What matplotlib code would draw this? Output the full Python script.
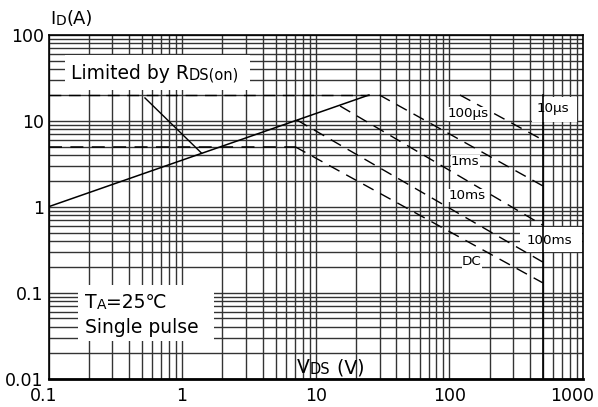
import matplotlib.pyplot as plt
import matplotlib.transforms as mtransforms
from matplotlib.patches import Rectangle
from matplotlib.ticker import LogLocator, NullFormatter

plt.rcParams['font.family'] = ['DejaVu Sans']

# axis ticks
x_ticks = [0.1, 1, 10, 100, 1000]
x_tick_labels = ['0.1', '1', '10', '100', '1000']
y_ticks = [0.01, 0.1, 1, 10, 100]
y_tick_labels = ['0.01', '0.1', '1', '10', '100']

# Rds(on) limit and its pointer
rds_v = [0.1, 25]
rds_i = [1, 20]
pointer_v = [0.527, 1.4]
pointer_i = [18.5, 4.2]

# current limits (pulsed / dc) and max Vds
pulse_lim_v = [0.1, 25]
pulse_lim_i = [20, 20]
dc_lim_v = [0.1, 7]
dc_lim_i = [5, 5]
vmax_v = [500, 500]
vmax_i = [0.01, 20]

# pulse width lines
v_10us = [120, 500]
i_10us = [20, 6.0]
v_100us = [30, 500]
i_100us = [20, 1.75]
v_1ms = [15.2, 500]
i_1ms = [14.9, 0.61]
v_10ms = [7.25, 500]
i_10ms = [10.2, 0.227]
v_dc = [7.0, 500]
i_dc = [5.0, 0.13]

fig = plt.figure(figsize=(5.98, 4.07), dpi=100)
ax = fig.add_axes([48.5/598, 28.5/407, 534.5/598, 343.5/407])
ax.set_xscale('log')
ax.set_yscale('log')
ax.set_xlim(0.1, 1000)
ax.set_ylim(0.01, 100)

ax.xaxis.set_minor_locator(LogLocator(base=10, subs=range(2, 10), numticks=50))
ax.yaxis.set_minor_locator(LogLocator(base=10, subs=range(2, 10), numticks=50))
ax.xaxis.set_minor_formatter(NullFormatter())
ax.yaxis.set_minor_formatter(NullFormatter())
ax.set_xticks(x_ticks, x_tick_labels, fontsize=12.5)
ax.set_yticks(y_ticks, y_tick_labels, fontsize=12.5)
ax.tick_params(which='both', length=0)
ax.tick_params(axis='x', pad=6)
ax.tick_params(axis='y', pad=3.5)
ax.grid(True, which='both', color='#333333', lw=1.0)
ax.set_axisbelow(True)
for s in ax.spines.values():
    s.set_linewidth(1.2)
ax.spines['bottom'].set_linewidth(2)

# shift end labels like the reference
labels = ax.get_xticklabels()
labels[0].set_transform(labels[0].get_transform() + mtransforms.ScaledTranslation(-5/100, 0, fig.dpi_scale_trans))
labels[-1].set_transform(labels[-1].get_transform() + mtransforms.ScaledTranslation(-11/100, 0, fig.dpi_scale_trans))

# white boxes
for (x0, y0, x1, y1) in [(0.031, 0.840, 0.377, 0.942), (0.055, 0.109, 0.310, 0.272),
                         (0.9046, 0.7467, 0.9888, 0.8195), (0.882, 0.368, 0.998, 0.441)]:
    ax.add_patch(Rectangle((x0, y0), x1 - x0, y1 - y0, transform=ax.transAxes,
                           fc='white', ec='none', zorder=1.5))

ax.plot(rds_v, rds_i, color='black', lw=1.1, zorder=3)
ax.plot(pointer_v, pointer_i, color='black', lw=1.0, zorder=3)
dash = (0, (8.5, 5.5))
ax.plot(pulse_lim_v, pulse_lim_i, color='black', lw=1.0, ls=dash, zorder=2.5)
ax.plot(dc_lim_v, dc_lim_i, color='black', lw=1.1, ls=dash, zorder=2.5)
ax.plot(vmax_v, vmax_i, color='black', lw=1.2, zorder=2.5)
for v, i in [(v_10us, i_10us), (v_100us, i_100us), (v_1ms, i_1ms), (v_10ms, i_10ms), (v_dc, i_dc)]:
    ax.plot(v, i, color='black', lw=1.0, ls=dash, zorder=3)


def rich_text(x, y, parts, transform=None):
    t = ax.text(x, y, parts[0][0], fontsize=parts[0][1], transform=transform or ax.transAxes,
                va='baseline', ha='left', zorder=4, clip_on=False)
    for s, fs in parts[1:]:
        t = ax.annotate(s, xy=(1, 0), xycoords=t, fontsize=fs, va='bottom', ha='left',
                        zorder=4, annotation_clip=False)
    return t


rich_text(0.003, 1.032, [('I', 13), ('D', 10), ('(A)', 13)])
rich_text(0.465, 0.016, [('V', 13.5), ('DS', 10.5), (' (V)', 13.5)])
rich_text(0.042, 0.872, [('Limited by R', 13.5), ('DS(on)', 10.5)])
rich_text(0.068, 0.205, [('T', 13.5), ('A', 10), ('=25\u2103', 13.5)])
rich_text(0.068, 0.132, [('Single pulse', 13.5)])

box = dict(fc='white', ec='none', pad=0.3)
ax.text(0.9126, 0.7758, '10\u03bcs', fontsize=9.7, transform=ax.transAxes, va='baseline', zorder=4)
ax.text(0.895, 0.3916, '100ms', fontsize=9.7, transform=ax.transAxes, va='baseline', zorder=4)
ax.text(0.747, 0.761, '100\u03bcs', fontsize=9.7, transform=ax.transAxes, va='baseline', bbox=box, zorder=4)
ax.text(0.753, 0.6215, '1ms', fontsize=9.7, transform=ax.transAxes, va='baseline', bbox=box, zorder=4)
ax.text(0.749, 0.5226, '10ms', fontsize=9.7, transform=ax.transAxes, va='baseline', bbox=box, zorder=4)
ax.text(0.7736, 0.330, 'DC', fontsize=9.7, transform=ax.transAxes, va='baseline', bbox=box, zorder=4)

fig.savefig('out.png', dpi=100)
